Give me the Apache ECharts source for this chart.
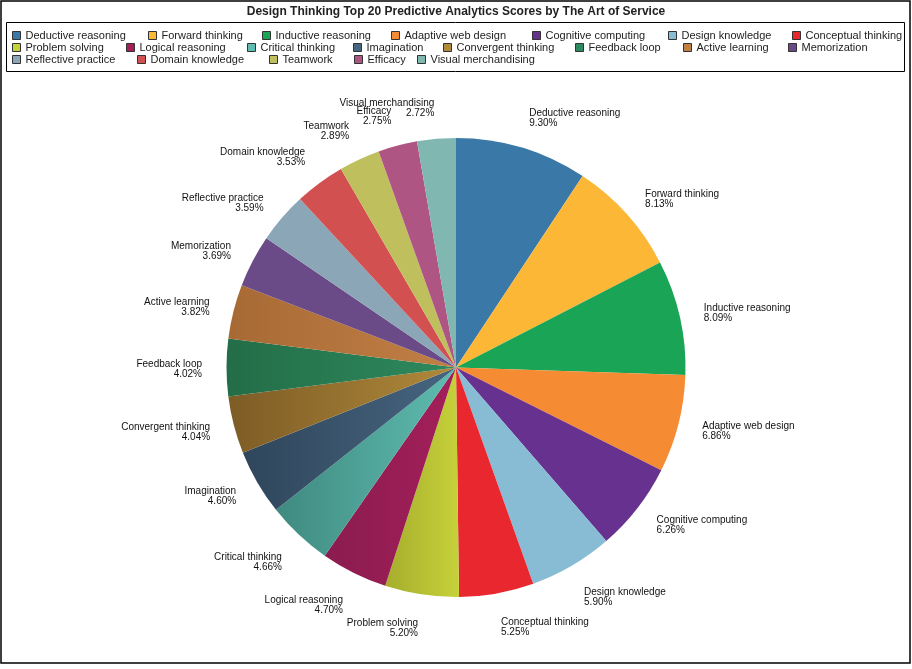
<!DOCTYPE html>
<html>
<head>
<meta charset="utf-8">
<script src="https://cdn.jsdelivr.net/npm/echarts@6/dist/echarts.min.js"></script>
<style>
html,body{margin:0;padding:0;background:#fff;}
#chart{width:912px;height:669px;}
</style>
</head>
<body>
<div id="chart"></div>
<script>
const chartTitle = "Design Thinking Top 20 Predictive Analytics Scores by The Art of Service";
const categories = [
  "Deductive reasoning", "Forward thinking", "Inductive reasoning", "Adaptive web design",
  "Cognitive computing", "Design knowledge", "Conceptual thinking", "Problem solving",
  "Logical reasoning", "Critical thinking", "Imagination", "Convergent thinking",
  "Feedback loop", "Active learning", "Memorization", "Reflective practice",
  "Domain knowledge", "Teamwork", "Efficacy", "Visual merchandising"
];
const values = [9.30, 8.13, 8.09, 6.86, 6.26, 5.90, 5.25, 5.20, 4.70, 4.66,
                4.60, 4.04, 4.02, 3.82, 3.69, 3.59, 3.53, 2.89, 2.75, 2.72];
const baseColors = [
  "#3a78a8", "#fbb735", "#1aa556", "#f58b33", "#66318f", "#87bcd4", "#e8272f",
  "#c6d23a", "#a41f5a", "#5fbcb0", "#476580", "#b0893a", "#2e8a5e", "#c07f45",
  "#6a4b87", "#8ba6b6", "#d35050", "#bfc05d", "#ae5584", "#80b7b1"
];
// darker edge tone for shaded slices (null = flat)
const shadeColors = [
  null, null, null, null, null, null, null,
  "#a6ad2c", "#8a1c4f", "#3f8a80", "#2f465b", "#7d5c26", "#236d47", "#a86a35",
  null, null, null, null, null, null
];
// legend layout (style): row and x position of each legend entry
const legendRowOf = [0,0,0,0,0,0,0, 1,1,1,1,1,1,1,1, 2,2,2,2,2];
const legendX = [12,148,262,391,532,668,792, 12,126,247,353,443,575,683,788, 12,137,269,354,417];
const legendRowTops = [30, 42, 54];

const chart = echarts.init(document.getElementById('chart'), null, {renderer: 'canvas'});
const FONT = "'Liberation Sans', Arial, Helvetica, sans-serif";

const pieData = categories.map((name, i) => {
  let color = baseColors[i];
  if (shadeColors[i]) {
    color = new echarts.graphic.LinearGradient(0, 0, 1, 0, [
      {offset: 0, color: shadeColors[i]},
      {offset: 1, color: baseColors[i]}
    ]);
  }
  return {name: name, value: values[i], itemStyle: {color: color}};
});

// mid angle of each slice (degrees from 12 o'clock, clockwise) for label anchoring
const total = values.reduce((a, b) => a + b, 0);
const midAngles = [];
{
  let acc = 0;
  values.forEach(v => { midAngles.push((acc + v / 2) / total * 360); acc += v; });
}
function labelShift(deg) {
  if (deg < 45 || deg > 315) return -6;      // top: label sits above anchor
  if (deg > 135 && deg < 225) return 10;     // bottom: label hangs below anchor
  return 1.5;                                // sides: centred
}

const legends = categories.map((name, i) => ({
  orient: 'horizontal',
  left: legendX[i],
  top: legendRowTops[legendRowOf[i]],
  padding: 0,
  itemWidth: 8,
  itemHeight: 8,
  icon: 'rect',
  selectedMode: false,
  textStyle: {fontFamily: FONT, fontSize: 11, color: '#222'},
  data: [{name: name, itemStyle: {color: baseColors[i], borderColor: '#333', borderWidth: 1}}]
}));

const option = {
  backgroundColor: '#fff',
  animation: false,
  title: {
    text: chartTitle,
    left: 'center',
    top: 1,
    textStyle: {fontFamily: FONT, fontSize: 12, fontWeight: 'bold', color: '#222'}
  },
  legend: legends,
  graphic: [
    {type: 'rect', shape: {x: 1, y: 1, width: 909, height: 662},
     style: {fill: 'none', stroke: '#000', lineWidth: 1.5}, silent: true},
    {type: 'rect', shape: {x: 6.5, y: 22.5, width: 898, height: 49},
     style: {fill: 'none', stroke: '#000', lineWidth: 1}, silent: true}
  ],
  series: [{
    type: 'pie',
    center: [456, 367.5],
    radius: [0, 229.5],
    startAngle: 90,
    clockwise: true,
    avoidLabelOverlap: false,
    itemStyle: {borderWidth: 0},
    emphasis: {disabled: true},
    label: {
      show: true,
      position: 'outside',
      distanceToLabelLine: 0,
      fontFamily: FONT,
      fontSize: 10,
      lineHeight: 10,
      color: '#111',
      formatter: p => p.name + '\n' + p.value.toFixed(2) + '%'
    },
    labelLine: {show: false, length: 24.5, length2: 0},
    labelLayout: function (params) {
      return {dy: labelShift(midAngles[params.dataIndex]), hideOverlap: false};
    },
    data: pieData
  }]
};
chart.setOption(option);
</script>
</body>
</html>
